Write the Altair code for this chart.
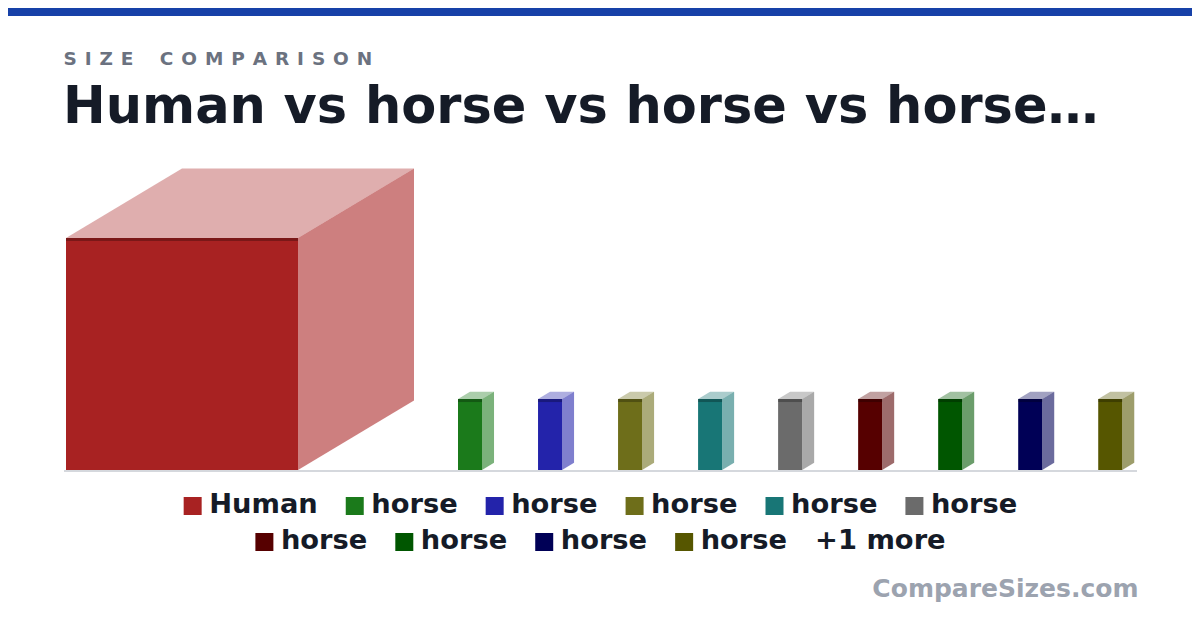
import altair as alt
import pandas as pd

# ---------------- data ----------------
names = ["Human"] + ["horse"] * 10
heights = [170] + [52] * 10            # cm
footprints = [170] + [17.6] * 10       # cm, front width of each block
colors = ["#a82222", "#1b7a1b", "#2323aa", "#6e6e1a", "#187676", "#6b6b6b",
          "#560000", "#005600", "#000056", "#565600", "#1a4f7a"]
SHOWN = 10
kicker = "SIZE COMPARISON"
headline = " vs ".join(names[:4]) + "\u2026"
brand = "CompareSizes.com"

# ---------------- layout / style ----------------
W, H = 1184, 600
PX = 232 / 170          # px per cm
X_LEFT = 58
BASE = 462
GAP = 44 / PX
DX, DY = 0.5, 0.3
FONT = "DejaVu Sans"
INK = "#151b27"

# DejaVu Sans Bold advance widths (em)
ADV = {" ": 713, "+": 1716, "1": 1425, "A": 1585, "C": 1503, "E": 1399, "H": 1714,
       "I": 762, "M": 2039, "N": 1714, "O": 1741, "P": 1501, "R": 1577, "S": 1474,
       "Z": 1485, "a": 1382, "e": 1389, "h": 1458, "m": 2134, "n": 1458, "o": 1407,
       "r": 1010, "s": 1219, "u": 1458}


def tw(s, size):
    return sum(ADV.get(c, 1300) for c in s) / 2048 * size


xs = alt.Scale(domain=[0, 800], range=[X_LEFT, X_LEFT + 800 * PX], nice=False, zero=False)
ys = alt.Scale(domain=[0, 240], range=[BASE, BASE - 240 * PX], nice=False, zero=False)

# ---------------- 3D blocks ----------------
front, top, side = [], [], []
cur = 0.0
for i in range(SHOWN):
    w, h, c = footprints[i], heights[i], colors[i]
    d, e = w * DX, w * DY
    front.append(dict(id=i, x=cur, x2=cur + w, y0=0, h=h, c=c))
    for px_, lo, hi in [(cur, h, h), (cur + d, h, h + e), (cur + w, h, h + e), (cur + w + d, h + e, h + e)]:
        top.append(dict(id=i, x=px_, lo=lo, hi=hi, c=c))
    for px_, lo, hi in [(cur + w, 0, h), (cur + w + d, e, h + e)]:
        side.append(dict(id=i, x=px_, lo=lo, hi=hi, c=c))
    cur += w + d + GAP

front_df = pd.DataFrame(front)
top_df = pd.DataFrame(top)
side_df = pd.DataFrame(side)

X = lambda f: alt.X(f, scale=xs, axis=None)
Y = lambda f: alt.Y(f, scale=ys, axis=None, stack=None)
C = alt.Color("c:N", scale=None, legend=None)

top_layer = alt.Chart(top_df).mark_area(opacity=0.37).encode(
    x=X("x:Q"), y=Y("lo:Q"), y2="hi:Q", detail="id:N", color=C)
side_layer = alt.Chart(side_df).mark_area(opacity=0.58).encode(
    x=X("x:Q"), y=Y("lo:Q"), y2="hi:Q", detail="id:N", color=C)
front_layer = alt.Chart(front_df).mark_rect().encode(
    x=X("x:Q"), x2="x2:Q", y=Y("y0:Q"), y2="h:Q", color=C)
strip_layer = alt.Chart(front_df).mark_rule(color="#000000", opacity=0.27, strokeWidth=3, yOffset=1.5).encode(
    x=X("x:Q"), x2="x2:Q", y=Y("h:Q"))
base_layer = alt.Chart(pd.DataFrame({"y0": [0]})).mark_rule(color="#d5d8dd", strokeWidth=2, yOffset=1).encode(
    x=alt.value(56), x2=alt.value(1129), y=Y("y0:Q"))

# ---------------- header ----------------
band = alt.Chart(pd.DataFrame({"a": [0]})).mark_rect(color="#1741a8").encode(
    x=alt.value(0), x2=alt.value(W), y=alt.value(0), y2=alt.value(8))

KS, KL = 18.5, 7.9
kx, rows = 55.5, []
for ch in kicker:
    if ch == " ":
        kx += 18.5
        continue
    rows.append(dict(ch=ch, x=kx))
    kx += tw(ch, KS) + KL
kicker_layer = alt.Chart(pd.DataFrame(rows)).mark_text(
    align="left", baseline="alphabetic", font=FONT, fontWeight="bold", fontSize=KS, color="#6b7280").encode(
    x=alt.X("x:Q", scale=None, axis=None), y=alt.value(56.8), text="ch:N")

title_layer = alt.Chart(pd.DataFrame({"t": [headline]})).mark_text(
    align="left", baseline="alphabetic", font=FONT, fontWeight="bold", fontSize=51, color=INK).encode(
    x=alt.value(55), y=alt.value(115.4), text="t:N")

# ---------------- legend ----------------
LF, SW_OFF, LGAP, CX = 27.3, 25.5, 28, 592.5
items = [(names[i], colors[i]) for i in range(SHOWN)]
items.append((f"+{len(names) - SHOWN} more", None))
leg_rows = [items[:6], items[6:]]
sw, lab = [], []
for r, row in enumerate(leg_rows):
    widths = [(SW_OFF if c else 0) + tw(t, LF) for t, c in row]
    total = sum(widths) + LGAP * (len(row) - 1)
    x = CX - total / 2
    base_y = 505.3 + 36 * r
    for (t, c), wdt in zip(row, widths):
        if c:
            sw.append(dict(x=x + 9, y=498 + 36 * r, c=c))
            lab.append(dict(x=x + SW_OFF, y=base_y, t=t))
        else:
            lab.append(dict(x=x, y=base_y, t=t))
        x += wdt + LGAP

sw_layer = alt.Chart(pd.DataFrame(sw)).mark_square(size=324, opacity=1).encode(
    x=alt.X("x:Q", scale=None, axis=None), y=alt.Y("y:Q", scale=None, axis=None), color=C)
lab_layer = alt.Chart(pd.DataFrame(lab)).mark_text(
    align="left", baseline="alphabetic", font=FONT, fontWeight="bold", fontSize=LF, color=INK).encode(
    x=alt.X("x:Q", scale=None, axis=None), y=alt.Y("y:Q", scale=None, axis=None), text="t:N")

brand_layer = alt.Chart(pd.DataFrame({"t": [brand]})).mark_text(
    align="right", baseline="alphabetic", font=FONT, fontWeight="bold", fontSize=25, color="#9ca3af").encode(
    x=alt.value(1130.5), y=alt.value(588.7), text="t:N")

chart = alt.layer(
    band, kicker_layer, title_layer,
    top_layer, side_layer, front_layer, strip_layer, base_layer,
    sw_layer, lab_layer, brand_layer,
).resolve_scale(x="independent", y="independent").properties(
    width=W, height=H, padding=0, autosize="none", background="white"
).configure_view(stroke=None)

chart.save("out.html", embed_options={"renderer": "svg", "actions": False})
